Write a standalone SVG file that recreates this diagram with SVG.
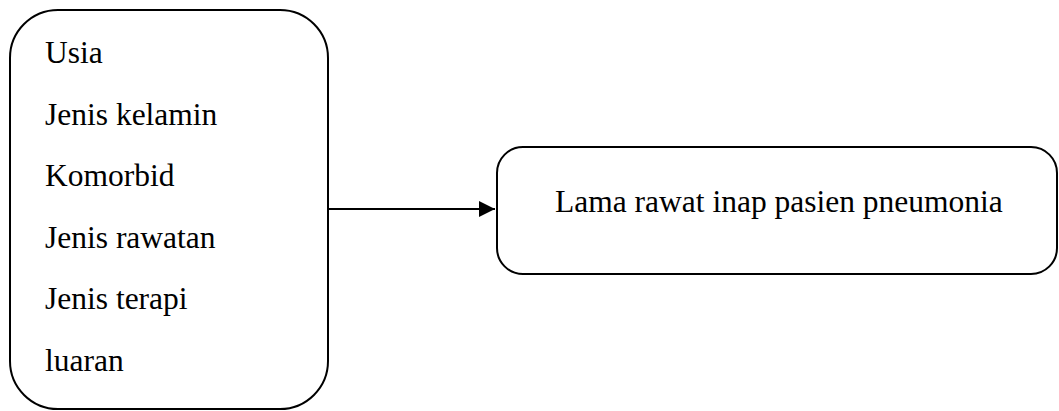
<svg xmlns="http://www.w3.org/2000/svg" width="1059" height="411" viewBox="0 0 1059 411">
<defs>
<style>
.box{fill:#fff;stroke:#000;stroke-width:2}
.t{font-family:"Liberation Serif","Times New Roman",serif;font-size:31.5px;fill:#000}
.conn{stroke:#000;stroke-width:2;fill:none}
</style>
<marker id="arr" markerWidth="10" markerHeight="10" refX="9" refY="5" orient="auto" markerUnits="userSpaceOnUse" viewBox="0 0 10 10">
<path d="M0,0 L10,5 L0,10 Z" fill="#000"/>
</marker>
<marker id="ah" markerWidth="16" markerHeight="16" refX="16" refY="8" orient="auto" markerUnits="userSpaceOnUse" viewBox="0 0 16 16">
<path d="M0,0 L16,8 L0,16 Z" fill="#000"/>
</marker>
</defs>
<rect width="1059" height="411" fill="#fff"/>
<g id="factors">
<rect class="box" x="10" y="10" width="318" height="399" rx="48" ry="48"/>
<text class="t" x="45" y="63">Usia</text>
<text class="t" x="45" y="124.5">Jenis kelamin</text>
<text class="t" x="45" y="186">Komorbid</text>
<text class="t" x="45" y="247.5">Jenis rawatan</text>
<text class="t" x="45" y="309">Jenis terapi</text>
<text class="t" x="45" y="370.5">luaran</text>
</g>
<g id="outcome">
<rect class="box" x="497" y="147" width="560" height="127" rx="26" ry="26"/>
<text class="t" x="555" y="212">Lama rawat inap pasien pneumonia</text>
</g>
<g id="connectors">
<line class="conn" x1="329" y1="209" x2="495" y2="209" marker-end="url(#ah)"/>
</g>
</svg>
